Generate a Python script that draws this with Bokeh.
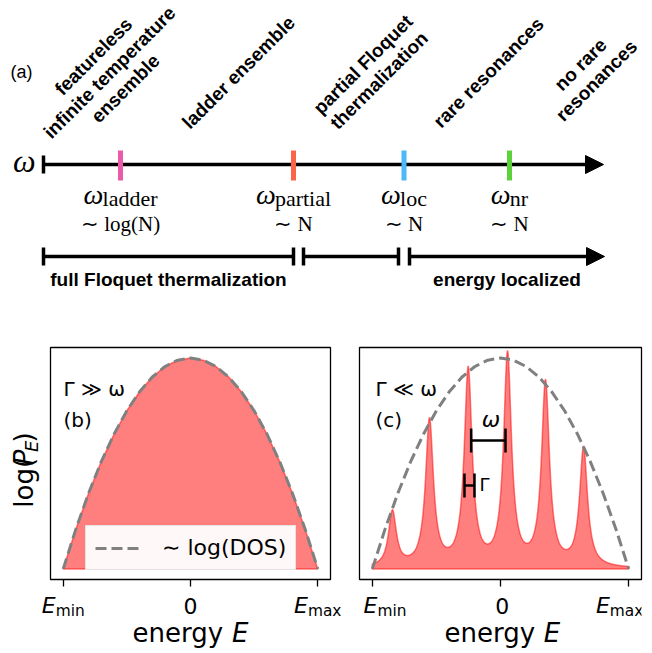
import numpy as np
from bokeh.plotting import figure
from bokeh.models import Arrow, NormalHead, TeeHead, Label, Range1d, FixedTicker
from bokeh.layouts import column, row
from bokeh.embed import file_html
from bokeh.resources import INLINE
from bokeh.core.properties import value

# ---------------- data: panel (a), schematic frequency axis ----------------
omega_axis = [43, 603]                      # start / arrow tip of the omega axis
thr_sub = ["ladder", "partial", "loc", "nr"]
thr_pos = [120, 293, 403.5, 509]            # positions of the crossover frequencies
thr_scaling = ["∼ log(N)", "∼ N", "∼ N", "∼ N"]
thr_colors = ["#ea5aa8", "#fb634a", "#4db8f5", "#5bd23c"]
regime_text = [["featureless", "infinite temperature", "ensemble"],
               ["ladder ensemble"],
               ["partial Floquet", "thermalization"],
               ["rare resonances"],
               ["no rare", "resonances"]]
regime_x = [109, 238, 370.5, 488, 588]
phase_text = ["full Floquet thermalization", "", "energy localized"]
phase_start = [43, 303, 409]
phase_end = [293, 398, 604]

# ---------------- data: panels (b), (c) ----------------
dos_E = [-1.0, -0.9, -0.8, -0.7, -0.6, -0.5, -0.4, -0.3, -0.2, -0.1, 0.0,
         0.1, 0.2, 0.3, 0.4, 0.5, 0.6, 0.7, 0.8, 0.9, 1.0]
dos_log = [0.0, 0.19, 0.36, 0.51, 0.64, 0.75, 0.84, 0.91, 0.96, 0.99, 1.0,
           0.99, 0.96, 0.91, 0.84, 0.75, 0.64, 0.51, 0.36, 0.19, 0.0]
peak_E = [-0.843, -0.554, -0.252, 0.055, 0.351, 0.648]
peak_h = [0.263, 0.694, 0.931, 1.003, 0.870, 0.562]
peak_gamma = 0.037
tick_E = [-1, 0, 1]
tick_main = ["E", "0", "E"]
tick_sub = ["min", "", "max"]
omega_bar_E = [-0.229, 0.039]
omega_bar_y = 0.609
gamma_bar_E = [-0.281, -0.203]
gamma_bar_y = 0.396
bar_cap = 0.057

# ---------------- helpers ----------------
TIMES = {'a': .444, 'c': .444, 'd': .5, 'e': .444, 'i': .278, 'l': .278,
         'n': .5, 'o': .5, 'p': .5, 'r': .333, 't': .278}
DV = {'e': .615, 'n': .634, 'r': .411, 'g': .635, 'y': .592, 'l': .278, 'o': .612,
      '(': .390, ')': .390, 'm': .974, 'i': .278, 'a': .613, 'x': .592, 'E': .632,
      'P': .603, ' ': .318}
MID = 0.35   # em distance from the alphabetic baseline to the middle of the em box


def dvw(s, size):
    return sum(DV[c] for c in s) * size


def txt(p, x, y_base, text, size, style="normal", align="left", xo=0.0,
        font="DejaVu Sans", unit=1.0):
    # y_base: alphabetic baseline; drawn with a "middle" baseline
    p.text(x=[x], y=[y_base + MID * size / unit], text=[text], text_font=value(font),
           text_font_size=f"{size}px", text_font_style=style, text_align=align,
           text_baseline="middle", x_offset=xo, text_color="black")


def blank(width, height, xr, yr):
    f = figure(width=width, height=height, x_range=xr, y_range=yr, output_backend="svg",
               toolbar_location=None, min_border=0, x_axis_location=None,
               y_axis_location=None, title=None)
    f.outline_line_color = None
    f.grid.visible = False
    return f


# ---------------- panel (a) ----------------
pa = blank(652, 318, Range1d(0, 652), Range1d(0, 318))

AX_Y = 154
pa.add_layout(Arrow(x_start=omega_axis[0], y_start=AX_Y, x_end=omega_axis[1], y_end=AX_Y,
                    line_width=3.5, line_color="black", level="underlay",
                    start=TeeHead(size=18, line_width=3.5, line_color="black"),
                    end=NormalHead(size=18, fill_color="black", line_color="black", line_width=1)))
pa.segment(x0=thr_pos, y0=[AX_Y - 16] * 4, x1=thr_pos, y1=[AX_Y + 14] * 4,
           line_color=thr_colors, line_width=5)

om_w = 0.68 * 28
om_x, sub_x = [], []
for t, s in zip(thr_pos, thr_sub):
    wsub = sum(TIMES[c] for c in s) * 22
    left = t - (om_w + wsub) / 2
    om_x.append(left)
    sub_x.append(left + om_w)
pa.text(x=om_x, y=[AX_Y - 40 + MID * 28] * 4, text=["ω"] * 4, text_font=value("Liberation Serif"),
        text_font_style="italic", text_font_size="28px", text_align="left",
        text_baseline="middle", text_color="black")
pa.text(x=sub_x, y=[AX_Y - 42 + MID * 22] * 4, text=thr_sub, text_font=value("Liberation Serif"),
        text_font_size="22px", text_align="left", text_baseline="middle", text_color="black")
pa.text(x=thr_pos, y=[AX_Y - 67 + MID * 21] * 4, text=thr_scaling, text_font=value("Liberation Serif"),
        text_font_size="21px", text_align="center", text_baseline="middle", text_color="black")

txt(pa, 35, AX_Y - 8, "ω", 32, style="italic", align="right", font="Liberation Serif")
txt(pa, 10, 240, "(a)", 18, font="Liberation Sans")

# rotated regime labels
LS = 22.6
c45 = np.cos(np.pi / 4)
rx, ry, rt = [], [], []
for lines, cx in zip(regime_text, regime_x):
    n = len(lines)
    for i, s in enumerate(lines):
        d = (i - (n - 1) / 2) * LS
        rx.append(cx + d * c45)
        ry.append(246 - d * c45)
        rt.append(s)
pa.text(x=rx, y=ry, text=rt, angle=np.pi / 4, text_font=value("Liberation Sans"),
        text_font_style="bold", text_font_size="19px", text_align="center",
        text_baseline="middle", text_color="black")

# phase bars
PH_Y = 62
for i, (s, e) in enumerate(zip(phase_start, phase_end)):
    last = i == len(phase_start) - 1
    end_head = (NormalHead(size=18, fill_color="black", line_color="black", line_width=1)
                if last else TeeHead(size=18, line_width=3.5, line_color="black"))
    pa.add_layout(Arrow(x_start=s, y_start=PH_Y, x_end=e, y_end=PH_Y, line_width=3.5,
                        line_color="black", level="underlay",
                        start=TeeHead(size=18, line_width=3.5, line_color="black"),
                        end=end_head))
ptx = [(s + e) / 2 for s, e, t in zip(phase_start, phase_end, phase_text) if t]
ptt = [t for t in phase_text if t]
pa.text(x=ptx, y=[32 + MID * 19] * len(ptx), text=ptt, text_font=value("Liberation Sans"),
        text_font_style="bold", text_font_size="19px", text_align="center",
        text_baseline="middle", text_color="black")

# ---------------- panels (b), (c) ----------------
X0, X1, Y0, Y1 = -1.1, 1.1, -0.05, 1.05
TOP, FH, BOT = 29, 232, 12          # borders / frame height of the energy panels
PANEL_H = TOP + FH + BOT
STRIP_H = 653 - 318 - PANEL_H
PPU_Y = FH / (Y1 - Y0)


def lab(p, x, y_base, text, size, style="normal", align="left"):
    p.add_layout(Label(x=x, y=y_base + MID * size / PPU_Y, text=text, text_font="DejaVu Sans",
                       text_font_size=f"{size}px", text_font_style=style, text_align=align,
                       text_baseline="middle", text_color="black"))


def energy_panel(width, left, right):
    p = figure(width=width, height=PANEL_H, x_range=Range1d(X0, X1),
               y_range=Range1d(Y0, Y1), output_backend="svg", toolbar_location=None,
               y_axis_location=None, title=None, min_border_left=left,
               min_border_right=right, min_border_top=TOP, min_border_bottom=BOT)
    p.grid.visible = False
    p.outline_line_color = "black"
    p.outline_line_width = 1.3
    ax = p.xaxis[0]
    ax.ticker = FixedTicker(ticks=[], minor_ticks=tick_E)
    ax.axis_line_color = None
    ax.major_tick_out = 0
    ax.major_tick_in = 0
    ax.minor_tick_out = 7
    ax.minor_tick_in = 0
    ax.minor_tick_line_width = 1.3
    ax.minor_tick_line_color = "black"
    ax.major_label_standoff = 0
    return p


def label_strip(width, frame_left, frame_w):
    ppu = frame_w / (X1 - X0)
    xr = Range1d(X0 - frame_left / ppu, X1 + (width - frame_left - frame_w) / ppu)
    s = blank(width, STRIP_H, xr, Range1d(0, STRIP_H))
    for t, m, sub in zip(tick_E, tick_main, tick_sub):
        if sub:
            wm = dvw(m, 22)
            ws = sum(DV[c] for c in sub) * 15.4
            x0 = -(wm + ws) / 2
            txt(s, t, 40, m, 22, style="italic", xo=x0)
            txt(s, t, 37, sub, 15.4, xo=x0 + wm)
        else:
            txt(s, t, 40, m, 22, align="center")
    tot = dvw("energy E", 26)
    txt(s, 0, 11, "energy", 26, xo=-tot / 2)
    txt(s, 0, 11, "E", 26, style="italic", xo=-tot / 2 + dvw("energy ", 26))
    return s


# (b)
pb = energy_panel(296, 2, 14)
pb.patch(x=dos_E, y=dos_log, fill_color="red", fill_alpha=0.5, line_color="red",
         line_alpha=0.5, line_width=1.5)
pb.line(dos_E, dos_log, line_color="gray", line_width=3, line_dash="11 5",
        legend_label="∼ log(DOS)")
lg = pb.legend[0]
lg.location = (35, 9)
lg.label_text_font = "DejaVu Sans"
lg.label_text_font_size = "22px"
lg.label_text_color = "black"
lg.glyph_width = 45
lg.glyph_height = 22
lg.label_standoff = 22
lg.padding = 9
lg.margin = 0
lg.spacing = 0
lg.border_line_color = "#cccccc"
lg.border_line_width = 1.2
lg.background_fill_alpha = 0.95
lab(pb, -0.998, 0.822, "Γ ≫ ω", 20)
lab(pb, -0.998, 0.671, "(b)", 20)

# y label strip for (b): log(P_E), rotated
ys = blank(48, PANEL_H, Range1d(0, 48),
           Range1d(Y0 - BOT / PPU_Y, Y1 + TOP / PPU_Y))
parts = [("log(", 26, "normal", 0), ("P", 26, "italic", 0), ("E", 18, "italic", 4), (")", 26, "normal", 0)]
widths = [dvw(s, sz) for s, sz, _, _ in parts]
pos = -sum(widths) / 2
for (s, sz, st, dx), w in zip(parts, widths):
    ys.text(x=[33 + dx - MID * sz], y=[0.5 + pos / PPU_Y], text=[s], angle=np.pi / 2,
            text_font=value("DejaVu Sans"), text_font_size=f"{sz}px", text_font_style=st,
            text_align="left", text_baseline="middle", text_color="black")
    pos += w

sb = label_strip(344, 50, 280)

# (c)
pc = energy_panel(308, 15, 11)
E = np.linspace(-1, 1, 1601)
P = np.zeros_like(E)
for e0, h in zip(peak_E, peak_h):
    P += h * peak_gamma ** 2 / ((E - e0) ** 2 + peak_gamma ** 2)
pc.patch(x=np.concatenate([[-1.0], E, [1.0]]), y=np.concatenate([[0.0], P, [0.0]]),
         fill_color="red", fill_alpha=0.5, line_color="red", line_alpha=0.5, line_width=1.5)
pc.line(dos_E, dos_log, line_color="gray", line_width=3, line_dash="11 5")
pc.segment(x0=[omega_bar_E[0], omega_bar_E[0], omega_bar_E[1], gamma_bar_E[0], gamma_bar_E[0], gamma_bar_E[1]],
           y0=[omega_bar_y, omega_bar_y - bar_cap, omega_bar_y - bar_cap, gamma_bar_y, gamma_bar_y - bar_cap, gamma_bar_y - bar_cap],
           x1=[omega_bar_E[1], omega_bar_E[0], omega_bar_E[1], gamma_bar_E[1], gamma_bar_E[0], gamma_bar_E[1]],
           y1=[omega_bar_y, omega_bar_y + bar_cap, omega_bar_y + bar_cap, gamma_bar_y, gamma_bar_y + bar_cap, gamma_bar_y + bar_cap],
           line_color="black", line_width=2.5)
lab(pc, -0.975, 0.822, "Γ ≪ ω", 20)
lab(pc, -0.975, 0.671, "(c)", 20)
lab(pc, -0.074, 0.671, "ω", 22, style="italic", align="center")
lab(pc, -0.164, 0.372, "Γ", 18)

sc = label_strip(308, 15, 282)

left_block = column(row(ys, pb, spacing=0), sb, spacing=0)
right_block = column(pc, sc, spacing=0)
layout = column(pa, row(left_block, right_block, spacing=0), spacing=0)
open("out.html", "w").write(file_html(layout, INLINE))
